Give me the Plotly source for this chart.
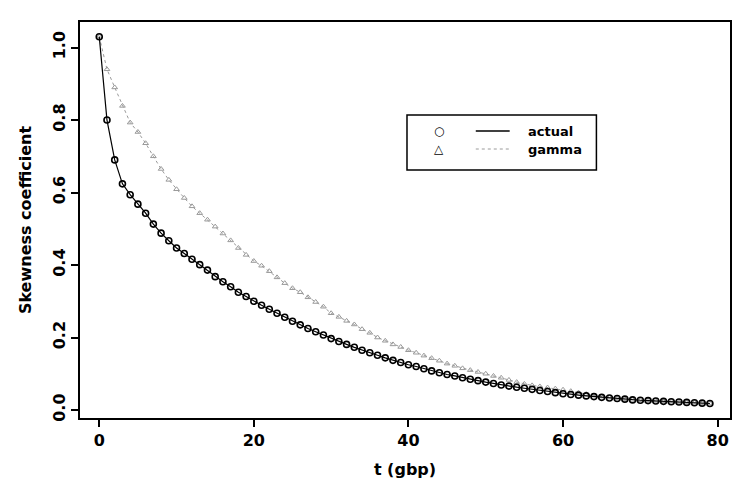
import plotly.graph_objects as go

t_values = list(range(0, 80))

actual = [
    1.030, 0.800, 0.690, 0.624, 0.594, 0.568, 0.543, 0.513, 0.488, 0.467,
    0.447, 0.432, 0.416, 0.401, 0.386, 0.368, 0.354, 0.340, 0.325, 0.313,
    0.300, 0.289, 0.278, 0.267, 0.256, 0.245, 0.235, 0.225, 0.216, 0.207,
    0.197, 0.189, 0.181, 0.173, 0.165, 0.158, 0.151, 0.144, 0.137, 0.131,
    0.125, 0.120, 0.114, 0.108, 0.103, 0.098, 0.094, 0.089, 0.085, 0.081,
    0.077, 0.073, 0.069, 0.066, 0.063, 0.060, 0.057, 0.054, 0.051, 0.048,
    0.045, 0.043, 0.041, 0.039, 0.037, 0.035, 0.033, 0.032, 0.030, 0.028,
    0.027, 0.026, 0.025, 0.024, 0.023, 0.022, 0.021, 0.020, 0.019, 0.018,
]

gamma = [
    1.030, 0.940, 0.890, 0.839, 0.793, 0.767, 0.736, 0.700, 0.665, 0.635,
    0.609, 0.585, 0.562, 0.543, 0.525, 0.506, 0.487, 0.468, 0.447, 0.428,
    0.411, 0.398, 0.383, 0.366, 0.350, 0.336, 0.325, 0.311, 0.298, 0.285,
    0.267, 0.257, 0.246, 0.236, 0.223, 0.213, 0.200, 0.191, 0.181, 0.174,
    0.165, 0.158, 0.150, 0.143, 0.136, 0.128, 0.122, 0.115, 0.110, 0.105,
    0.100, 0.094, 0.089, 0.083, 0.077, 0.072, 0.068, 0.065, 0.062, 0.059,
    0.056, 0.052, 0.048, 0.044, 0.040, 0.037, 0.034, 0.032, 0.030, 0.028,
    0.027, 0.026, 0.025, 0.024, 0.023, 0.022, 0.021, 0.020, 0.019, 0.018,
]

x_ticks = [0, 20, 40, 60, 80]
y_ticks = [0.0, 0.2, 0.4, 0.6, 0.8, 1.0]
y_tick_labels = ["0.0", "0.2", "0.4", "0.6", "0.8", "1.0"]
legend_labels = ["actual", "gamma"]

FONT = "DejaVu Sans"
GRAY = "#9a9a9a"

fig = go.Figure()
fig.add_trace(go.Scatter(
    x=t_values, y=gamma, mode="lines+markers", name="gamma",
    line=dict(color=GRAY, width=1, dash="dot"),
    marker=dict(symbol="triangle-up-open", size=5, color=GRAY,
                line=dict(width=1, color=GRAY)),
    showlegend=False,
))
fig.add_trace(go.Scatter(
    x=t_values, y=actual, mode="lines+markers", name="actual",
    line=dict(color="black", width=1.2),
    marker=dict(symbol="circle-open", size=6, color="black",
                line=dict(width=1.6, color="black")),
    showlegend=False,
))

W, H = 732, 483
L, R, T, B = 80, 0, 22, 65
pw, ph = W - L - R, H - T - B


def px(x):
    return (x - L) / pw


def py(y):
    return (H - B - y) / ph


ROW1, ROW2 = 131, 149

shapes = [
    dict(type="rect", xref="paper", yref="paper",
         x0=px(408), x1=px(598), y0=py(170), y1=py(115),
         line=dict(color="black", width=1.5)),
    dict(type="line", xref="paper", yref="paper",
         x0=px(477), x1=px(511), y0=py(ROW1), y1=py(ROW1),
         line=dict(color="black", width=1.5)),
    dict(type="line", xref="paper", yref="paper",
         x0=px(477), x1=px(511), y0=py(ROW2), y1=py(ROW2),
         line=dict(color=GRAY, width=1, dash="dot")),
]

annotations = [
    dict(xref="paper", yref="paper", x=px(440), y=py(ROW1), text="○",
         showarrow=False, xanchor="center", yanchor="middle",
         font=dict(family=FONT, size=12, color="black")),
    dict(xref="paper", yref="paper", x=px(440), y=py(ROW2), text="△",
         showarrow=False, xanchor="center", yanchor="middle",
         font=dict(family=FONT, size=12, color="black")),
    dict(xref="paper", yref="paper", x=px(527), y=py(ROW1), text="<b>" + legend_labels[0] + "</b>",
         showarrow=False, xanchor="left", yanchor="middle",
         font=dict(family=FONT, size=13, color="black")),
    dict(xref="paper", yref="paper", x=px(527), y=py(ROW2), text="<b>" + legend_labels[1] + "</b>",
         showarrow=False, xanchor="left", yanchor="middle",
         font=dict(family=FONT, size=13, color="black")),
]

fig.update_layout(
    width=W, height=H,
    margin=dict(l=L, r=R, t=T, b=B),
    paper_bgcolor="white", plot_bgcolor="white",
    font=dict(family=FONT, size=16, color="black"),
    shapes=shapes, annotations=annotations,
    xaxis=dict(
        range=[-2.49, 81.6], tickvals=x_ticks,
        ticktext=["<b>%d</b>" % v for v in x_ticks],
        ticks="outside", ticklen=7, tickwidth=1.5, tickcolor="black",
        showline=True, linecolor="black", linewidth=2, mirror=True,
        showgrid=False, zeroline=False,
        title=dict(text="<b>t (gbp)</b>", standoff=15, font=dict(size=16)),
    ),
    yaxis=dict(
        range=[-0.022, 1.0705], tickvals=y_ticks,
        ticktext=["<b>%s</b>" % s for s in y_tick_labels],
        tickangle=-90,
        ticks="outside", ticklen=7, tickwidth=1.5, tickcolor="black",
        showline=True, linecolor="black", linewidth=2, mirror=True,
        showgrid=False, zeroline=False,
        title=dict(text="<b>Skewness coefficient</b>", standoff=14, font=dict(size=16)),
    ),
)

fig.write_html("out.html")
